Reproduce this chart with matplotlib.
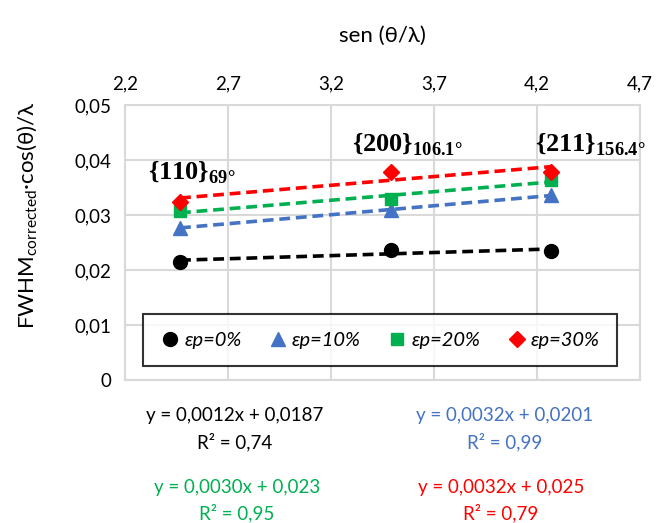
import numpy as np
import matplotlib
matplotlib.use("Agg")
import matplotlib.pyplot as plt

plt.rcParams['font.family'] = ['Lato', 'DejaVu Sans']
plt.rcParams['mathtext.fontset'] = 'custom'
plt.rcParams['mathtext.bf'] = 'Liberation Serif:weight=bold'
plt.rcParams['mathtext.rm'] = 'Liberation Serif'
plt.rcParams['mathtext.sf'] = 'Lato'

# Data
x_vals = [2.467, 3.49, 4.27]
series_names = ['εp=0%', 'εp=10%', 'εp=20%', 'εp=30%']
y_0 = [0.0215, 0.0236, 0.02345]
y_10 = [0.0277, 0.0309, 0.0336]
y_20 = [0.0307, 0.0329, 0.0364]
y_30 = [0.0324, 0.0379, 0.0379]
peak_labels = [r'$\mathbf{\{110\}}_{\mathbf{69°}}$',
               r'$\mathbf{\{200\}}_{\mathbf{106.1°}}$',
               r'$\mathbf{\{211\}}_{\mathbf{156.4°}}$']
eq_texts = [('y = 0,0012x + 0,0187', 'R² = 0,74'),
            ('y = 0,0032x + 0,0201', 'R² = 0,99'),
            ('y = 0,0030x + 0,023', 'R² = 0,95'),
            ('y = 0,0032x + 0,025', 'R² = 0,79')]
x_ticks = [2.2, 2.7, 3.2, 3.7, 4.2, 4.7]
y_ticks = [0, 0.01, 0.02, 0.03, 0.04, 0.05]

colors = ['#000000', '#4472C4', '#00B050', '#FF0000']
markers = ['o', '^', 's', 'D']
msizes = [10, 10.5, 9, 8]
all_y = [y_0, y_10, y_20, y_30]

W, H = 656, 523
fig = plt.figure(figsize=(W/100, H/100), dpi=100)
ax = fig.add_axes([125/W, (H-380)/H, 515/W, 275/H])

for yv, c, m, ms, name in zip(all_y, colors, markers, msizes, series_names):
    ax.plot(x_vals, yv, linestyle='none', marker=m, color=c, markersize=ms,
            label=name, zorder=4)
    coef = np.polyfit(x_vals, yv, 1)
    xs = np.array([x_vals[0], x_vals[-1]])
    ax.plot(xs, np.polyval(coef, xs), linestyle=(0, (3, 1.6)), color=c,
            linewidth=2.6, zorder=3)

ax.set_xlim(2.2, 4.7)
ax.set_ylim(0, 0.05)
ax.set_xticks(x_ticks)
ax.set_yticks(y_ticks)
ax.xaxis.tick_top()
ax.set_xticklabels([f'{t:.1f}'.replace('.', ',') for t in x_ticks], fontsize=13.5)
ax.set_yticklabels(['0'] + [f'{t:.2f}'.replace('.', ',') for t in y_ticks[1:]], fontsize=13.5)
ax.tick_params(length=0, pad=10)
ax.tick_params(axis='x', pad=9)
ax.grid(True, color='#D9D9D9', linewidth=1.5, zorder=0)
ax.set_axisbelow(True)
for s in ax.spines.values():
    s.set_color('#D9D9D9')
    s.set_linewidth(1.5)

ax.set_xlabel('sen (θ/λ)', fontsize=16)
ax.xaxis.set_label_position('top')
ax.xaxis.labelpad = 24
ax.set_ylabel(r'FWHM$_{\mathsf{corrected}}$·cos(θ)/λ', fontsize=16)
ax.yaxis.set_label_coords(-0.165, 0.6)

# peak annotations
ann_pos = [(2.31, 0.0353), (3.30, 0.0404), (4.19, 0.0404)]
for (px, py), lab in zip(ann_pos, peak_labels):
    ax.text(px, py, lab, fontsize=19, ha='left', va='bottom', color='#000000')

leg = ax.legend(loc='center', bbox_to_anchor=(0.495, 0.145), ncol=4,
                prop={'size': 14.5, 'style': 'italic'}, frameon=True,
                fancybox=False, handletextpad=0.2, columnspacing=1.3,
                borderpad=0.85, handlelength=1.0)
leg.get_frame().set_edgecolor('#000000')
leg.get_frame().set_linewidth(1.5)

# equation texts
eq_pos = [(235, 415, 442), (505, 415, 442), (237, 488, 513), (501, 488, 513)]
for (eq, r2), (cx, y1, y2), c in zip(eq_texts, eq_pos, colors):
    fig.text(cx/W, 1 - y1/H, eq, color=c, fontsize=13.5, ha='center', va='center')
    fig.text(cx/W, 1 - y2/H, r2, color=c, fontsize=13.5, ha='center', va='center')

fig.savefig('out.png', dpi=100)
